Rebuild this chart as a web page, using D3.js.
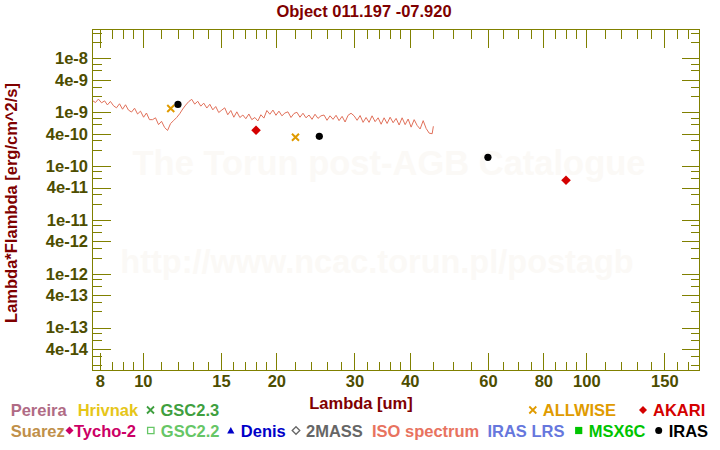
<!DOCTYPE html>
<html><head><meta charset="utf-8">
<script src="https://cdn.jsdelivr.net/npm/d3@7"></script>
<style>
body{margin:0;background:#fff}
svg{display:block}
text{font-family:"Liberation Sans",Arial,Helvetica,sans-serif;font-weight:bold}
</style>
</head><body>
<svg id="chart" width="720" height="450"></svg>
<script>
// ---------- data ----------
const chartTitle = "Object 011.197 -07.920";
const xTitle = "Lambda [um]";
const yTitle = "Lambda*Flambda [erg/cm^2/s]";
const watermark1 = "The Torun post-AGB Catalogue";
const watermark2 = "http://www.ncac.torun.pl/postagb";

const xMajorTicks = [8, 10, 15, 20, 30, 40, 60, 80, 100, 150];
const xMinorTicks = [8.5, 9, 9.5, 11, 12, 13, 14, 16, 17, 18, 19, 22, 24, 26, 28, 32, 34, 36, 38,
                     45, 50, 55, 65, 70, 75, 85, 90, 95, 110, 120, 130, 140, 160, 170];
const yMajorTicks = [1e-8, 4e-9, 1e-9, 4e-10, 1e-10, 4e-11, 1e-11, 4e-12, 1e-12, 4e-13, 1e-13, 4e-14];
const yMajorLabels = ["1e-8", "4e-9", "1e-9", "4e-10", "1e-10", "4e-11", "1e-11", "4e-12", "1e-12", "4e-13", "1e-13", "4e-14"];
const yMinorTicks = [3e-8, 2e-8, 8e-9, 6e-9, 3e-9, 2e-9, 8e-10, 6e-10, 3e-10, 2e-10,
                     8e-11, 6e-11, 3e-11, 2e-11, 8e-12, 6e-12, 3e-12, 2e-12,
                     8e-13, 6e-13, 3e-13, 2e-13, 8e-14, 6e-14, 3e-14, 2e-14];

// ISO spectrum (wavelength in um, flux in units of 1e-10 erg/cm^2/s)
const isoWave = [7.70, 7.82, 7.94, 8.07, 8.20, 8.32, 8.45, 8.59, 8.72, 8.86, 9.00, 9.14, 9.28, 9.43, 9.58,
  9.73, 9.88, 10.04, 10.19, 10.35, 10.52, 10.68, 10.85, 11.02, 11.20, 11.37, 11.55, 11.73, 11.92, 12.11,
  12.30, 12.49, 12.69, 12.89, 13.09, 13.30, 13.51, 13.72, 13.94, 14.16, 14.38, 14.60, 14.83, 15.07, 15.30,
  15.54, 15.79, 16.04, 16.29, 16.55, 16.81, 17.07, 17.34, 17.61, 17.89, 18.17, 18.46, 18.75, 19.04, 19.34,
  19.65, 19.96, 20.27, 20.59, 20.91, 21.24, 21.58, 21.92, 22.26, 22.61, 22.97, 23.33, 23.70, 24.07, 24.45,
  24.83, 25.22, 25.62, 26.02, 26.43, 26.85, 27.27, 27.70, 28.14, 28.58, 29.03, 29.48, 29.95, 30.42, 30.90,
  31.38, 31.87, 32.37, 32.88, 33.40, 33.93, 34.46, 35.00, 35.55, 36.11, 36.68, 37.25, 37.84, 38.43, 39.04,
  39.65, 40.27, 40.91, 41.55, 42.20, 42.87, 43.54, 44.23, 44.92, 45.20];
const isoFlux = [16.5, 15.2, 17.6, 15.0, 16.3, 13.7, 15.9, 13.2, 12.1, 14.4, 11.4, 13.8, 11.0, 10.1, 11.9,
  9.3, 10.5, 8.1, 9.7, 7.3, 7.3, 7.9, 5.9, 6.8, 5.2, 4.6, 6.2, 7.0, 8.0, 9.4,
  11.5, 13.6, 15.8, 17.4, 14.2, 16.0, 13.0, 14.8, 12.0, 14.1, 11.1, 12.8, 9.9, 11.0, 12.1,
  9.0, 10.8, 8.1, 10.2, 8.0, 8.9, 7.6, 9.3, 7.3, 8.0, 6.9, 9.0, 7.8, 10.8, 9.2,
  11.0, 8.8, 10.5, 8.6, 9.7, 10.2, 8.0, 9.5, 10.0, 8.1, 9.6, 7.9, 8.9, 7.4, 9.2,
  7.7, 8.6, 8.9, 7.1, 8.6, 7.4, 8.8, 7.0, 8.4, 6.6, 8.8, 9.6, 8.6, 7.1, 8.7,
  6.5, 8.0, 6.5, 8.6, 6.7, 7.9, 6.0, 7.9, 6.2, 8.1, 6.4, 7.7, 5.8, 7.9, 5.9,
  7.5, 5.3, 7.3, 5.7, 4.9, 7.0, 5.0, 4.1, 4.0, 5.5];

const allwiseWave = [11.56, 22.09];
const allwiseFlux = [1.18e-9, 3.43e-10];
const irasWave = [12, 25, 60];
const irasFlux = [1.40e-9, 3.58e-10, 1.46e-10];
const akariWave = [18, 90];
const akariFlux = [4.63e-10, 5.47e-11];

// legend
const legendNames = ["Pereira", "Hrivnak", "GSC2.3", "ALLWISE", "AKARI",
                     "Suarez", "Tycho-2", "GSC2.2", "Denis", "2MASS", "ISO spectrum", "IRAS LRS", "MSX6C", "IRAS"];
const legendColors = ["#b06b85", "#e6c619", "#3f9f3f", "#e09b00", "#d40000",
                      "#c0904a", "#cc0066", "#66c666", "#0000c8", "#666666", "#e8735f", "#6677dd", "#00c400", "#000000"];
const legendSymbols = ["none", "none", "x", "x", "diamond",
                       "none", "diamond", "squareOpen", "triangle", "diamondOpen", "none", "none", "square", "circle"];

// ---------- layout ----------
const L = 92.5, R = 699.5, T = 29.5, B = 370.5;
const axisColor = "#808000", tickLabelColor = "#4d4d00", titleColor = "#7f0000";
const fontSize = "16.5px";

const svg = d3.select("#chart");
const x = d3.scaleLog().domain([7.7, 180]).range([L, R]);
const y = d3.scaleLog().domain([1.6e-14, 3.45e-8]).range([B, T]);

// watermark
svg.append("text").attr("x", 389).attr("y", 175).attr("text-anchor", "middle")
  .style("font-size", "34.5px").attr("fill", "#fbf9f6").text(watermark1);
svg.append("text").attr("x", 377).attr("y", 273).attr("text-anchor", "middle")
  .style("font-size", "32.5px").attr("fill", "#fbf9f6").text(watermark2);

// titles
svg.append("text").attr("x", 364).attr("y", 17).attr("text-anchor", "middle")
  .style("font-size", fontSize).attr("fill", titleColor).text(chartTitle);
svg.append("text").attr("x", 361).attr("y", 409).attr("text-anchor", "middle")
  .style("font-size", fontSize).attr("fill", titleColor).text(xTitle);
svg.append("text").attr("transform", "translate(17,203) rotate(-90)").attr("text-anchor", "middle")
  .style("font-size", fontSize).attr("fill", titleColor).text(yTitle);

// axes ticks via d3 axes
function styleAxis(g) {
  g.select(".domain").remove();
  g.selectAll("line").attr("stroke", axisColor).attr("stroke-width", 1).attr("shape-rendering", "crispEdges");
  g.selectAll("text").remove();
}
[[xMajorTicks, 18], [xMinorTicks, 9]].forEach(([vals, len]) => {
  svg.append("g").attr("transform", `translate(0,${B})`)
    .call(d3.axisBottom(x).tickValues(vals).tickSizeInner(-len).tickSizeOuter(0).tickFormat(""))
    .call(styleAxis);
  svg.append("g").attr("transform", `translate(0,${T})`)
    .call(d3.axisTop(x).tickValues(vals).tickSizeInner(-len).tickSizeOuter(0).tickFormat(""))
    .call(styleAxis);
});
[[yMajorTicks, 18], [yMinorTicks, 9]].forEach(([vals, len]) => {
  svg.append("g").attr("transform", `translate(${L},0)`)
    .call(d3.axisLeft(y).tickValues(vals).tickSizeInner(-len).tickSizeOuter(0).tickFormat(""))
    .call(styleAxis);
  svg.append("g").attr("transform", `translate(${R},0)`)
    .call(d3.axisRight(y).tickValues(vals).tickSizeInner(-len).tickSizeOuter(0).tickFormat(""))
    .call(styleAxis);
});

// tick labels
const gxl = svg.append("g").attr("transform", `translate(0,${B})`)
  .call(d3.axisBottom(x).tickValues(xMajorTicks).tickSize(0).tickPadding(5).tickFormat(d => String(d)));
gxl.select(".domain").remove();
gxl.attr("font-family", null).attr("font-size", null);
gxl.selectAll("text").style("font-size", fontSize).attr("fill", tickLabelColor);
const gyl = svg.append("g").attr("transform", `translate(${L},0)`)
  .call(d3.axisLeft(y).tickValues(yMajorTicks).tickSize(0).tickPadding(4.5)
        .tickFormat((d, i) => yMajorLabels[i]));
gyl.select(".domain").remove();
gyl.attr("font-family", null).attr("font-size", null);
gyl.selectAll("text").style("font-size", fontSize).attr("fill", tickLabelColor);

// frame
svg.append("rect").attr("x", L).attr("y", T).attr("width", R - L).attr("height", B - T)
  .attr("fill", "none").attr("stroke", axisColor).attr("stroke-width", 1).attr("shape-rendering", "crispEdges");

// clip
svg.append("clipPath").attr("id", "clip").append("rect")
  .attr("x", L).attr("y", T).attr("width", R - L).attr("height", B - T);
const plot = svg.append("g").attr("clip-path", "url(#clip)");

// ISO spectrum
const isoData = isoWave.map((w, i) => [w, isoFlux[i] * 1e-10]);
plot.append("path").datum(isoData)
  .attr("d", d3.line().x(d => x(d[0])).y(d => y(d[1])))
  .attr("fill", "none").attr("stroke", "#e0705a").attr("stroke-width", 1);

// marker shapes
function markerPath(type, r) {
  switch (type) {
    case "x": return `M${-r},${-r}L${r},${r}M${-r},${r}L${r},${-r}`;
    case "diamond": case "diamondOpen": return `M0,${-r}L${r},0L0,${r}L${-r},0Z`;
    case "square": case "squareOpen": return `M${-r},${-r}H${r}V${r}H${-r}Z`;
    case "triangle": return `M0,${-r}L${r},${r * 0.8}L${-r},${r * 0.8}Z`;
    case "circle": return d3.symbol(d3.symbolCircle, Math.PI * r * r)();
  }
  return "";
}
function drawMarker(g, type, color, r, sw) {
  const p = g.append("path").attr("d", markerPath(type, r));
  if (type === "x") p.attr("fill", "none").attr("stroke", color).attr("stroke-width", sw);
  else if (type === "squareOpen" || type === "diamondOpen") p.attr("fill", "none").attr("stroke", color).attr("stroke-width", 1.3);
  else p.attr("fill", color);
  return p;
}

allwiseWave.forEach((w, i) => {
  const g = plot.append("g").attr("transform", `translate(${x(w)},${y(allwiseFlux[i])})`);
  drawMarker(g, "x", "#e09b00", 3.5, 2);
});
akariWave.forEach((w, i) => {
  const g = plot.append("g").attr("transform", `translate(${x(w)},${y(akariFlux[i])})`);
  drawMarker(g, "diamond", "#d40000", 4.8, 0);
});
irasWave.forEach((w, i) => {
  const g = plot.append("g").attr("transform", `translate(${x(w)},${y(irasFlux[i])})`);
  drawMarker(g, "circle", "#000000", 3.6, 0);
});

// legend
const legendLayout = [[10.7, 0], [77.7, 0], [160.5, 0], [542.8, 0], [653, 0],
                      [10.7, 1], [74, 1], [160.8, 1], [240.8, 1], [306, 1], [372, 1], [487.4, 1], [588.7, 1], [668.7, 1]];
const rowBase = [416, 436.5];
const legendR = {x: 3.5, diamond: 4, squareOpen: 3.2, triangle: 3.6, diamondOpen: 3.8, square: 3.6, circle: 3.5};
legendNames.forEach((name, i) => {
  const [lx, row] = legendLayout[i];
  const by = rowBase[row];
  const col = legendColors[i];
  svg.append("text").attr("x", lx).attr("y", by).style("font-size", fontSize).attr("fill", col).text(name);
  const sym = legendSymbols[i];
  if (sym !== "none") {
    const off = name === "Tycho-2" ? 4.5 : 10;
    const g = svg.append("g").attr("transform", `translate(${lx - off},${by - 6})`);
    drawMarker(g, sym, col, legendR[sym], 1.8);
  }
});
</script>
</body></html>
